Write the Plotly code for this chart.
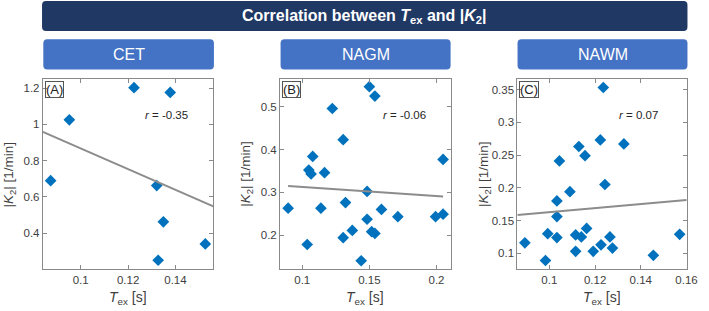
import plotly.graph_objects as go

W, H = 709, 311

# ---------------- data ----------------
cet_tex = [0.0873, 0.0952, 0.1225, 0.1378, 0.1321, 0.1349, 0.1327, 0.1526]
cet_k2 = [0.689, 1.025, 1.202, 1.176, 0.662, 0.462, 0.250, 0.340]
cet_fit_x = [0.084, 0.156]
cet_fit_y = [0.958, 0.547]

nagm_tex = [0.0895, 0.1037, 0.1049, 0.1066, 0.1078, 0.1139, 0.1166, 0.1224,
            0.1305, 0.1305, 0.1322, 0.1373, 0.1439, 0.1483, 0.1483, 0.1500,
            0.1541, 0.1517, 0.1541, 0.1590, 0.1712, 0.1993, 0.2049, 0.2049]
nagm_k2 = [0.263, 0.178, 0.352, 0.343, 0.384, 0.263, 0.346, 0.496,
           0.423, 0.194, 0.276, 0.211, 0.140, 0.302, 0.237, 0.547,
           0.525, 0.208, 0.204, 0.260, 0.243, 0.243, 0.249, 0.377]
nagm_fit_x = [0.0895, 0.2049]
nagm_fit_y = [0.3148, 0.2900]

nawm_tex = [0.0893, 0.0983, 0.0993, 0.1033, 0.1033, 0.1033, 0.1044, 0.1090,
            0.1115, 0.1115, 0.1129, 0.1140, 0.1156, 0.1163, 0.1192, 0.1223,
            0.1226, 0.1236, 0.1243, 0.1265, 0.1276, 0.1326, 0.1455, 0.1570]
nawm_k2 = [0.116, 0.089, 0.130, 0.124, 0.156, 0.180, 0.241, 0.194,
           0.103, 0.128, 0.263, 0.125, 0.249, 0.138, 0.103, 0.273,
           0.113, 0.353, 0.205, 0.125, 0.108, 0.267, 0.097, 0.129]
nawm_fit_x = [0.086, 0.160]
nawm_fit_y = [0.1586, 0.1812]

panel_titles = ["CET", "NAGM", "NAWM"]
panel_letters = ["(A)", "(B)", "(C)"]
r_labels = ["-0.35", "-0.06", "0.07"]

x_ranges = [[0.084, 0.156], [0.0835, 0.2105], [0.086, 0.1602]]
y_ranges = [[0.20, 1.25], [0.12, 0.565], [0.0756, 0.366]]
x_ticks = [[0.1, 0.12, 0.14], [0.1, 0.15, 0.2], [0.1, 0.12, 0.14, 0.16]]
y_ticks = [[0.4, 0.6, 0.8, 1.0, 1.2], [0.2, 0.3, 0.4, 0.5],
           [0.1, 0.15, 0.2, 0.25, 0.3, 0.35]]
x_ticktext = [["0.1", "0.12", "0.14"], ["0.1", "0.15", "0.2"],
              ["0.1", "0.12", "0.14", "0.16"]]
y_ticktext = [["0.4", "0.6", "0.8", "1", "1.2"], ["0.2", "0.3", "0.4", "0.5"],
              ["0.1", "0.15", "0.2", "0.25", "0.3", "0.35"]]

# ---------------- layout geometry (pixels) ----------------
FONT = "Arial, Liberation Sans, sans-serif"
axes_px = [(43.5, 216.7), (284.5, 457.7), (525.5, 697.8)]
ax_top, ax_bot = 79.0, 269.3
box_px = [(44.0, 217.3), (285.0, 457.7), (525.7, 698.3)]

def px(x):
    return x / W

def py(y):
    return 1 - y / H

def rounded_rect(x0, y0, x1, y1, r):
    rx, ry = r / W, r / H
    X0, X1 = px(x0), px(x1)
    Y0, Y1 = py(y0), py(y1)  # Y0 top (larger), Y1 bottom
    return (f"M {X0+rx},{Y0} L {X1-rx},{Y0} Q {X1},{Y0} {X1},{Y0-ry} "
            f"L {X1},{Y1+ry} Q {X1},{Y1} {X1-rx},{Y1} "
            f"L {X0+rx},{Y1} Q {X0},{Y1} {X0},{Y1+ry} "
            f"L {X0},{Y0-ry} Q {X0},{Y0} {X0+rx},{Y0} Z")

fig = go.Figure()

datasets = [(cet_tex, cet_k2, cet_fit_x, cet_fit_y),
            (nagm_tex, nagm_k2, nagm_fit_x, nagm_fit_y),
            (nawm_tex, nawm_k2, nawm_fit_x, nawm_fit_y)]

shapes = []
annotations = []
axis_color = "#8a8a8a"
tick_font = dict(family=FONT, size=11.5, color="#404040")

for i, (tx, ky, fx, fy) in enumerate(datasets):
    n = "" if i == 0 else str(i + 1)
    xa, ya = "x" + n, "y" + n
    fig.add_trace(go.Scatter(x=tx, y=ky, mode="markers", xaxis=xa, yaxis=ya,
                             marker=dict(symbol="diamond", size=9, color="#0072BD",
                                         line=dict(width=0)),
                             showlegend=False, cliponaxis=False))
    fig.add_trace(go.Scatter(x=fx, y=fy, mode="lines", xaxis=xa, yaxis=ya,
                             line=dict(color="#8c8c8c", width=2),
                             showlegend=False))
    common = dict(showgrid=False, zeroline=False, showline=True, linecolor=axis_color,
                  linewidth=1, mirror="ticks", ticks="inside", ticklen=4,
                  tickcolor=axis_color, tickfont=tick_font)
    fig.layout["xaxis" + n] = dict(domain=[px(axes_px[i][0]), px(axes_px[i][1])],
                                   range=x_ranges[i], tickvals=x_ticks[i],
                                   ticktext=x_ticktext[i], anchor=ya, **common)
    fig.layout["yaxis" + n] = dict(domain=[py(ax_bot), py(ax_top)],
                                   range=y_ranges[i], tickvals=y_ticks[i],
                                   ticktext=y_ticktext[i], anchor=xa, **common)

    # subplot title box
    bx0, bx1 = box_px[i]
    shapes.append(dict(type="path", xref="paper", yref="paper",
                       path=rounded_rect(bx0, 39.3, bx1, 69.5, 4),
                       fillcolor="#4472C4", line=dict(width=0), layer="below"))
    annotations.append(dict(xref="paper", yref="paper", x=px((bx0 + bx1) / 2),
                            y=py(54.5), text=panel_titles[i], showarrow=False,
                            font=dict(family=FONT, size=16, color="white"),
                            xanchor="center", yanchor="middle"))
    # panel letter
    annotations.append(dict(xref=xa + " domain", yref=ya + " domain", x=0.012, y=0.99,
                            text=panel_letters[i], showarrow=False,
                            xanchor="left", yanchor="top",
                            font=dict(family=FONT, size=13, color="#222222"),
                            bordercolor="#555555", borderwidth=1, borderpad=0))
    # r label
    annotations.append(dict(xref=xa + " domain", yref=ya + " domain", x=0.59, y=0.81,
                            text="<i>r</i> = " + r_labels[i], showarrow=False,
                            xanchor="left", yanchor="middle",
                            font=dict(family=FONT, size=11.5, color="#262626")))
    # axis titles
    ax0, ax1 = axes_px[i]
    annotations.append(dict(xref="paper", yref="paper", x=px((ax0 + ax1) / 2),
                            y=py(298), text="<i>T</i><sub>ex</sub> [s]",
                            showarrow=False, xanchor="center", yanchor="middle",
                            font=dict(family=FONT, size=14, color="#404040")))
    annotations.append(dict(xref="paper", yref="paper", x=px(ax0 - 34),
                            y=py((ax_top + ax_bot) / 2),
                            text="|<i>K</i><sub>2</sub>| [1/min]", textangle=-90,
                            showarrow=False, xanchor="center", yanchor="middle",
                            font=dict(family=FONT, size=13.5, color="#404040")))

# main title bar
shapes.append(dict(type="path", xref="paper", yref="paper",
                   path=rounded_rect(42.7, 1.0, 698.3, 31.0, 4),
                   fillcolor="#203864", line=dict(width=0), layer="below"))
annotations.append(dict(xref="paper", yref="paper", x=px((42.7 + 698.3) / 2), y=py(16),
                        text="<b>Correlation between <i>T</i><sub>ex</sub> and |<i>K</i><sub>2</sub>|</b>",
                        showarrow=False, xanchor="center", yanchor="middle",
                        font=dict(family=FONT, size=16, color="white")))

fig.update_layout(width=W, height=H, margin=dict(l=0, r=0, t=0, b=0),
                  paper_bgcolor="white", plot_bgcolor="white",
                  shapes=shapes, annotations=annotations)

fig.write_html("out.html", config={"displayModeBar": False},
               post_script="document.body.style.margin='0';document.body.style.padding='0';")
